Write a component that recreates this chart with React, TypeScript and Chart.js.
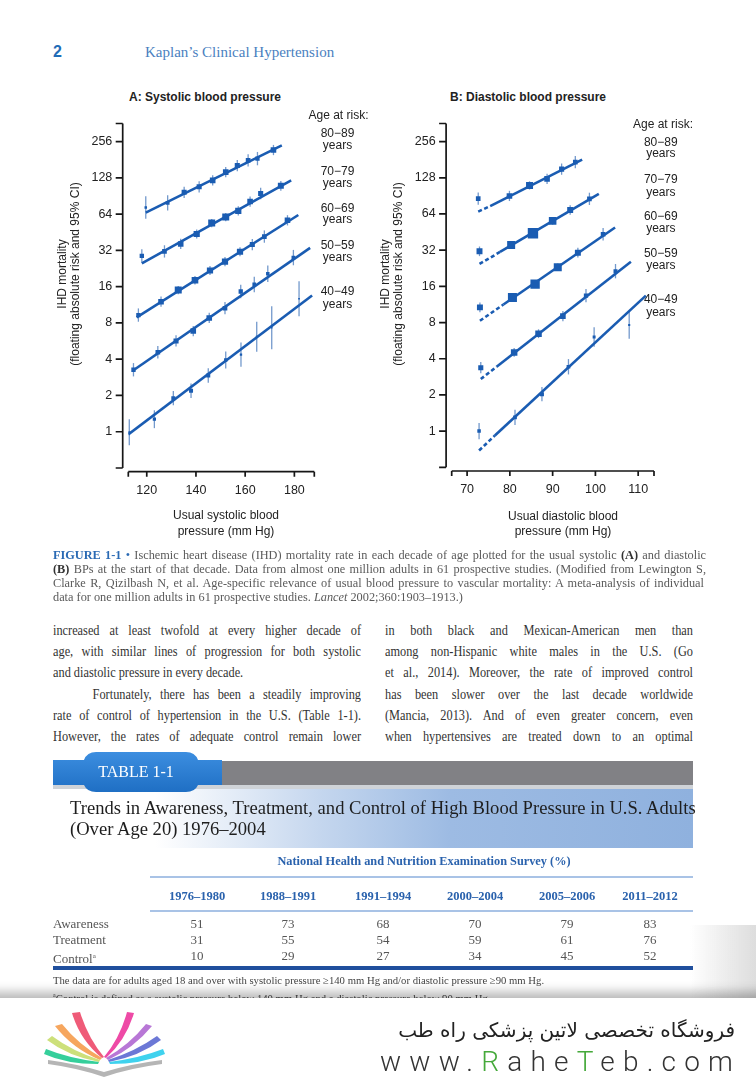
import React, { useEffect, useRef } from 'react';
import { Chart, registerables } from 'chart.js';

Chart.register(...registerables);

// [usual blood pressure (mm Hg), IHD mortality (floating absolute risk), SE of log risk]
type Obs = [number, number, number];
type Pt = [number, number];

// ---------- Panel A: usual systolic blood pressure ----------
const sysAge80_89: Obs[] = [
  [119.6, 72.7, 0.11], [128.5, 79.4, 0.074], [135.2, 97.2, 0.055], [141.3, 108, 0.055],
  [146.8, 122, 0.05], [152.1, 143, 0.05], [156.8, 162, 0.055], [161.2, 179, 0.06],
  [165.0, 185, 0.065], [171.5, 218, 0.05],
];
const sysAge70_79: Obs[] = [
  [118.0, 28.8, 0.064], [127.2, 31.4, 0.06], [133.8, 36.2, 0.05], [140.3, 43.8, 0.045],
  [146.4, 54, 0.04], [152.1, 60.5, 0.04], [157.2, 68, 0.045], [162.0, 81.5, 0.05],
  [166.3, 95, 0.055], [174.5, 110, 0.047],
];
const sysAge60_69: Obs[] = [
  [116.6, 9.3, 0.065], [125.8, 12.0, 0.05], [132.8, 15.0, 0.04], [139.6, 18.1, 0.042],
  [145.7, 21.8, 0.045], [151.8, 25.8, 0.045], [157.9, 31.2, 0.045], [162.9, 35.8, 0.055],
  [167.8, 41.7, 0.06], [177.2, 56.9, 0.05],
];
const sysAge50_59: Obs[] = [
  [114.6, 3.27, 0.065], [124.5, 4.57, 0.06], [131.9, 5.67, 0.055], [138.9, 6.85, 0.05],
  [145.4, 8.8, 0.05], [151.8, 10.6, 0.06], [158.2, 14.6, 0.065], [163.7, 16.7, 0.075],
  [169.2, 20.5, 0.08], [179.6, 27.9, 0.075],
];
const sysAge40_49: Obs[] = [
  [112.9, 0.99, 0.126], [123.1, 1.27, 0.087], [130.8, 1.9, 0.07], [138.0, 2.19, 0.07],
  [145.0, 2.93, 0.07], [152.1, 3.94, 0.084], [158.3, 4.37, 0.119], [164.7, 6.15, 0.147],
  [170.8, 7.3, 0.21], [181.9, 12.7, 0.17],
];
// fitted lines: [start, end]
const sysFit80_89: Pt[] = [[119.6, 66], [174.9, 238]];
const sysFit70_79: Pt[] = [[118.0, 25], [178.7, 122]];
const sysFit60_69: Pt[] = [[115.9, 8.9], [181.6, 63]];
const sysFit50_59: Pt[] = [[114.3, 3.21], [186.4, 33.6]];
const sysFit40_49: Pt[] = [[112.5, 0.95], [187.2, 13.5]];

// ---------- Panel B: usual diastolic blood pressure ----------
const diaAge80_89: Obs[] = [
  [72.6, 85.8, 0.06], [79.9, 90.4, 0.05], [84.6, 110.6, 0.04], [88.7, 125.4, 0.05],
  [92.1, 151, 0.055], [95.3, 173, 0.06],
];
const diaAge70_79: Obs[] = [
  [72.9, 31.3, 0.047], [80.3, 35.3, 0.035], [85.4, 44.2, 0.027], [90.0, 56.1, 0.037],
  [94.1, 69, 0.047], [98.6, 85.5, 0.06],
];
const diaAge60_69: Obs[] = [
  [73.0, 10.7, 0.047], [80.6, 12.9, 0.031], [85.9, 16.7, 0.03], [91.2, 23.1, 0.035],
  [95.9, 30.5, 0.047], [101.8, 43.4, 0.06],
];
const diaAge50_59: Obs[] = [
  [73.2, 3.37, 0.055], [81.0, 4.51, 0.043], [86.7, 6.46, 0.043], [92.4, 9.04, 0.05],
  [97.8, 13.4, 0.065], [104.7, 21.4, 0.07],
];
const diaAge40_49: Obs[] = [
  [72.8, 1.0, 0.08], [81.2, 1.30, 0.075], [87.5, 2.03, 0.07], [93.7, 3.43, 0.075],
  [99.7, 6.07, 0.095], [107.9, 7.64, 0.135],
];
// fitted lines: [start of dashed extrapolation, end of dashes, end]
const diaFit80_89: Pt[] = [[72.6, 67], [75.4, 74.5], [96.9, 181]];
const diaFit70_79: Pt[] = [[72.9, 24.6], [77.7, 30.9], [100.8, 94.2]];
const diaFit60_69: Pt[] = [[73.0, 8.28], [78.5, 11.3], [104.6, 49.4]];
const diaFit50_59: Pt[] = [[73.2, 2.71], [76.9, 3.43], [108.3, 25.6]];
const diaFit40_49: Pt[] = [[72.8, 0.69], [76.5, 0.92], [111.8, 13.4]];

// ---------- axes ----------
const ageGroups = ['80−89', '70−79', '60−69', '50−59', '40−49'];
const yTickValues = [1, 2, 4, 8, 16, 32, 64, 128, 256];
const yAxisRange: Pt = [0.5, 362];
const sysXTicks = [120, 140, 160, 180];
const sysXRange: Pt = [112.5, 188.1];
const diaXTicks = [70, 80, 90, 100, 110];
const diaXRange: Pt = [66.4, 113.7];

// ---------- table ----------
const tableYears = ['1976–1980', '1988–1991', '1991–1994', '2000–2004', '2005–2006', '2011–2012'];
const awareness = [51, 73, 68, 70, 79, 83];
const treatment = [31, 55, 54, 59, 61, 76];
const control = [10, 29, 27, 34, 45, 52];

const SANS = '"Liberation Sans", Arial, Helvetica, sans-serif';
const SERIF = '"Liberation Serif", "Times New Roman", serif';
const BLUE = '#1a5cb2';
const CI_BLUE = '#7399cc';
const Z95 = 1.96;

const markerSide = (se: number) => Math.min(11, Math.max(1.5, 0.28 / se));

const errorBarPlugin = {
  id: 'errorBars',
  beforeDatasetsDraw(chart: any) {
    const { ctx, scales } = chart;
    const x = scales.x, y = scales.y;
    ctx.save();
    ctx.strokeStyle = CI_BLUE;
    ctx.lineWidth = 1.3;
    chart.data.datasets.forEach((ds: any) => {
      if (!ds.obs) return;
      ds.obs.forEach(([bp, r, se]: Obs) => {
        const px = x.getPixelForValue(bp);
        const lo = y.getPixelForValue(r * Math.exp(-Z95 * se));
        const hi = y.getPixelForValue(r * Math.exp(Z95 * se));
        ctx.beginPath();
        ctx.moveTo(px, lo);
        ctx.lineTo(px, hi);
        ctx.stroke();
      });
    });
    ctx.restore();
  },
};

const detachedAxesPlugin = {
  id: 'detachedAxes',
  afterDraw(chart: any) {
    const { ctx, chartArea: ca, scales } = chart;
    const x = scales.x, y = scales.y;
    ctx.save();
    ctx.strokeStyle = '#161616';
    ctx.lineWidth = 1.7;
    ctx.beginPath();
    const ax = ca.left - 5.6;
    ctx.moveTo(ax, ca.top);
    ctx.lineTo(ax, ca.bottom);
    y.ticks.forEach((t: any) => {
      const py = y.getPixelForValue(t.value);
      ctx.moveTo(ax - 7, py);
      ctx.lineTo(ax, py);
    });
    const ay = ca.bottom + 3.7;
    ctx.moveTo(ca.left, ay);
    ctx.lineTo(ca.right, ay);
    x.ticks.forEach((t: any) => {
      const px = x.getPixelForValue(t.value);
      ctx.moveTo(px, ay);
      ctx.lineTo(px, ay + 5);
    });
    ctx.stroke();
    ctx.restore();
  },
};

function buildConfig(
  series: Obs[][], fits: Pt[][], xRange: Pt, xTicks: number[], dashedLead: boolean,
  yAxisWidth: number, xAxisHeight: number, padTop: number, padRight: number,
): any {
  const datasets: any[] = [];
  series.forEach((obs, i) => {
    datasets.push({
      type: 'scatter',
      label: ageGroups[i] + ' years',
      obs,
      data: obs.map(([bp, r]) => ({ x: bp, y: r })),
      pointStyle: 'rect',
      pointRadius: obs.map((o) => markerSide(o[2]) / Math.SQRT2),
      pointBackgroundColor: BLUE,
      pointBorderWidth: 0,
      showLine: false,
      order: 0,
    });
  });
  fits.forEach((f, i) => {
    datasets.push({
      type: 'line',
      label: ageGroups[i] + ' fit',
      data: f.map(([bp, r]) => ({ x: bp, y: r })),
      borderColor: BLUE,
      borderWidth: 2.6,
      pointRadius: 0,
      tension: 0,
      fill: false,
      segment: dashedLead
        ? { borderDash: (c: any) => (c.p0DataIndex === 0 ? [4, 2.6] : undefined) }
        : undefined,
      order: 1,
    });
  });
  const tickFont = { family: SANS, size: 12.5 };
  return {
    type: 'scatter',
    data: { datasets },
    options: {
      animation: false,
      responsive: false,
      maintainAspectRatio: false,
      devicePixelRatio: 1,
      layout: { padding: { top: padTop, right: padRight, left: 0, bottom: 0 } },
      plugins: { legend: { display: false }, tooltip: { enabled: false }, title: { display: false } },
      scales: {
        x: {
          type: 'linear',
          min: xRange[0],
          max: xRange[1],
          afterBuildTicks: (s: any) => {
            s.ticks = [xRange[0], ...xTicks, xRange[1]].map((v) => ({ value: v }));
          },
          afterFit: (s: any) => { s.height = xAxisHeight; },
          ticks: {
            callback: (v: any) => (xTicks.includes(v) ? String(v) : ''),
            font: tickFont,
            color: '#222',
            padding: 15,
            autoSkip: false,
            maxRotation: 0,
          },
          grid: { display: false, drawTicks: false },
          border: { display: false },
        },
        y: {
          type: 'logarithmic',
          min: yAxisRange[0],
          max: yAxisRange[1],
          afterBuildTicks: (s: any) => {
            s.ticks = [yAxisRange[0], ...yTickValues, yAxisRange[1]].map((v) => ({ value: v }));
          },
          afterFit: (s: any) => { s.width = yAxisWidth; },
          ticks: {
            callback: (v: any) => (yTickValues.includes(v) ? String(v) : ''),
            font: tickFont,
            color: '#222',
            padding: 16,
            autoSkip: false,
          },
          grid: { display: false, drawTicks: false },
          border: { display: false },
        },
      },
    },
    plugins: [errorBarPlugin, detachedAxesPlugin],
  };
}

function Txt(props: any) {
  const { x, y, children, size = 12, family = SANS, color = '#222', weight = 400, align = 'left', w = 400, style = {} } = props;
  const h = size * 2;
  let left = x;
  if (align === 'center') left = x - w / 2;
  if (align === 'right') left = x - w;
  return (
    <div
      style={{
        position: 'absolute', left, top: y - h / 2, height: h, lineHeight: h + 'px', width: w,
        textAlign: align, fontSize: size, fontFamily: family, color, fontWeight: weight,
        whiteSpace: 'nowrap', ...style,
      }}
    >
      {children}
    </div>
  );
}

function JLine(props: any) {
  const { x, y, w, size, family = SERIF, color = '#333', scale = 1, justify = true, children, lh = 18, indent = 0 } = props;
  return (
    <div
      style={{
        position: 'absolute', left: x, top: y - lh / 2, height: lh, lineHeight: lh + 'px',
        width: w / scale, transform: `scaleX(${scale})`, transformOrigin: 'left center',
        textAlign: justify ? 'justify' : 'left', textAlignLast: justify ? 'justify' : 'left',
        fontSize: size, fontFamily: family, color, textIndent: indent,
      }}
    >
      {children}
    </div>
  );
}

function VTxt(props: any) {
  const { x, y, children, size = 12 } = props;
  return (
    <div
      style={{
        position: 'absolute', left: x - 150, top: y - size, width: 300, height: size * 2,
        lineHeight: size * 2 + 'px', textAlign: 'center', fontFamily: SANS, fontSize: size,
        color: '#222', transform: 'rotate(-90deg)', whiteSpace: 'nowrap',
      }}
    >
      {children}
    </div>
  );
}

function AgeLabels(props: any) {
  const { cx, headY, headX, ageY, yearY } = props;
  return (
    <>
      <Txt x={headX} y={headY} align="center" w={120} size={12}>Age at risk:</Txt>
      {ageGroups.map((g, i) => (
        <React.Fragment key={g}>
          <Txt x={cx} y={ageY[i]} align="center" w={80} size={12}>{g}</Txt>
          <Txt x={cx} y={yearY[i]} align="center" w={80} size={12}>years</Txt>
        </React.Fragment>
      ))}
    </>
  );
}

function Logo() {
  const petals = [
    { c: '#ef5b78', d: 'M102,1058 Q80,1040 72,1013 L80,1012 Q88,1038 104,1057 Z' },
    { c: '#f6a65e', d: 'M100,1060 Q72,1048 55,1026 L62,1024 Q78,1044 102,1058 Z' },
    { c: '#cde07a', d: 'M99,1062 Q68,1056 47,1040 L52,1036 Q72,1051 100,1060 Z' },
    { c: '#35cf9b', d: 'M98,1064 Q66,1064 44,1054 L46,1049 Q68,1058 99,1062 Z' },
    { c: '#ee4aa6', d: 'M106,1058 Q126,1040 134,1013 L127,1012 Q120,1038 104,1057 Z' },
    { c: '#b877d6', d: 'M108,1060 Q134,1048 152,1026 L146,1024 Q130,1044 106,1058 Z' },
    { c: '#6c78d6', d: 'M109,1062 Q140,1056 161,1040 L157,1036 Q136,1051 108,1060 Z' },
    { c: '#3fd2ee', d: 'M110,1064 Q142,1064 165,1054 L163,1049 Q140,1058 109,1062 Z' },
  ];
  return (
    <svg width={756} height={1080} style={{ position: 'absolute', left: 0, top: 0 }}>
      {petals.map((p, i) => <path key={i} d={p.d} fill={p.c} />)}
      <path d="M48,1060 Q78,1064 104,1072 Q130,1064 162,1060 L162,1064 Q130,1068 104,1077 Q78,1068 48,1064 Z" fill="#b5b5b5" />
    </svg>
  );
}

export default function App() {
  const refA = useRef<HTMLCanvasElement>(null);
  const refB = useRef<HTMLCanvasElement>(null);

  useEffect(() => {
    const a = new Chart(
      refA.current as any,
      buildConfig(
        [sysAge80_89, sysAge70_79, sysAge60_69, sysAge50_59, sysAge40_49],
        [sysFit80_89, sysFit70_79, sysFit60_69, sysFit50_59, sysFit40_49],
        sysXRange, sysXTicks, false, 68.3, 52, 15, 15.7,
      ),
    );
    const b = new Chart(
      refB.current as any,
      buildConfig(
        [diaAge80_89, diaAge70_79, diaAge60_69, diaAge50_59, diaAge40_49],
        [diaFit80_89, diaFit70_79, diaFit60_69, diaFit50_59, diaFit40_49],
        diaXRange, diaXTicks, true, 71.7, 52.7, 14.3, 16,
      ),
    );
    return () => { a.destroy(); b.destroy(); };
  }, []);

  const capY = [554.5, 568.6, 582.7, 596.6];
  const bodyY = [631, 652.2, 673.4, 694.6, 715.8, 737];
  const colX = [197, 288, 383, 475, 567, 650];
  const rowY = [924, 940, 956];

  return (
    <div style={{ position: 'absolute', left: 0, top: 0, width: 756, height: 1080, background: '#fff', overflow: 'hidden' }}>
      {/* header */}
      <Txt x={53} y={52} size={16} weight={700} color="#1f6cb7" family={SANS}>2</Txt>
      <Txt x={145} y={52} size={15} color="#4a7fc0" family={SERIF}>Kaplan’s Clinical Hypertension</Txt>

      {/* panel titles */}
      <Txt x={129} y={96.5} size={12} weight={700}>A: Systolic blood pressure</Txt>
      <Txt x={450} y={97} size={12} weight={700}>B: Diastolic blood pressure</Txt>

      <canvas ref={refA} width={270} height={420} style={{ position: 'absolute', left: 60, top: 100, width: 270, height: 420 }} />
      <canvas ref={refB} width={290} height={420} style={{ position: 'absolute', left: 380, top: 100, width: 290, height: 420 }} />

      {/* axis titles */}
      <VTxt x={62} y={274}>IHD mortality</VTxt>
      <VTxt x={75} y={274}>(floating absolute risk and 95% CI)</VTxt>
      <VTxt x={384.5} y={274}>IHD mortality</VTxt>
      <VTxt x={398} y={274}>(floating absolute risk and 95% CI)</VTxt>
      <Txt x={226} y={515} align="center" w={200} size={12}>Usual systolic blood</Txt>
      <Txt x={226} y={531} align="center" w={200} size={12}>pressure (mm Hg)</Txt>
      <Txt x={563} y={515.5} align="center" w={200} size={12}>Usual diastolic blood</Txt>
      <Txt x={563} y={531} align="center" w={200} size={12}>pressure (mm Hg)</Txt>

      <AgeLabels cx={337.5} headX={338.5} headY={115}
        ageY={[132.7, 170.7, 207.7, 245, 290.7]} yearY={[145, 183.3, 219.3, 256.7, 304]} />
      <AgeLabels cx={660.8} headX={663} headY={124.3}
        ageY={[141.7, 179.3, 216, 253.3, 299.3]} yearY={[153.3, 191.7, 227.7, 265, 312.3]} />

      {/* caption */}
      <JLine x={53} y={capY[0]} w={653} size={12.3} color="#5a5a5a" lh={14}>
        <span style={{ color: '#2a6ab4', fontWeight: 700 }}>FIGURE 1-1</span>{' '}
        <span style={{ color: '#2a6ab4' }}>•</span> Ischemic heart disease (IHD) mortality rate in each decade of age plotted for the usual systolic <b style={{ color: '#333' }}>(A)</b> and diastolic
      </JLine>
      <JLine x={53} y={capY[1]} w={653} size={12.3} color="#5a5a5a" lh={14}>
        <b style={{ color: '#333' }}>(B)</b> BPs at the start of that decade. Data from almost one million adults in 61 prospective studies. (Modified from Lewington S,
      </JLine>
      <JLine x={53} y={capY[2]} w={651} size={12.3} color="#5a5a5a" lh={14}>
        Clarke R, Qizilbash N, et al. Age-specific relevance of usual blood pressure to vascular mortality: A meta-analysis of individual
      </JLine>
      <JLine x={53} y={capY[3]} w={420} size={12.3} color="#5a5a5a" lh={14} justify={false}>
        data for one million adults in 61 prospective studies. <i>Lancet</i> 2002;360:1903–1913.)
      </JLine>

      {/* body text */}
      <JLine x={53} y={bodyY[0]} w={308} size={14} scale={0.88}>increased at least twofold at every higher decade of</JLine>
      <JLine x={53} y={bodyY[1]} w={308} size={14} scale={0.88}>age, with similar lines of progression for both systolic</JLine>
      <JLine x={53} y={bodyY[2]} w={308} size={14} scale={0.88} justify={false}>and diastolic pressure in every decade.</JLine>
      <JLine x={53} y={bodyY[3]} w={308} size={14} scale={0.88} indent={45}>Fortunately, there has been a steadily improving</JLine>
      <JLine x={53} y={bodyY[4]} w={308} size={14} scale={0.88}>rate of control of hypertension in the U.S. (Table 1-1).</JLine>
      <JLine x={53} y={bodyY[5]} w={308} size={14} scale={0.88}>However, the rates of adequate control remain lower</JLine>
      <JLine x={385} y={bodyY[0]} w={308} size={14} scale={0.88}>in both black and Mexican-American men than</JLine>
      <JLine x={385} y={bodyY[1]} w={308} size={14} scale={0.88}>among non-Hispanic white males in the U.S. (Go</JLine>
      <JLine x={385} y={bodyY[2]} w={308} size={14} scale={0.88}>et al., 2014). Moreover, the rate of improved control</JLine>
      <JLine x={385} y={bodyY[3]} w={308} size={14} scale={0.88}>has been slower over the last decade worldwide</JLine>
      <JLine x={385} y={bodyY[4]} w={308} size={14} scale={0.88}>(Mancia, 2013). And of even greater concern, even</JLine>
      <JLine x={385} y={bodyY[5]} w={308} size={14} scale={0.88}>when hypertensives are treated down to an optimal</JLine>

      {/* table header graphics */}
      <div style={{ position: 'absolute', left: 222, top: 761, width: 471, height: 24, background: '#818185' }} />
      <div style={{ position: 'absolute', left: 53, top: 785, width: 640, height: 4, background: '#cfd3d8' }} />
      <div style={{
        position: 'absolute', left: 53, top: 789, width: 640, height: 59,
        background: 'linear-gradient(to right, #ffffff 0%, #ffffff 16%, #c4d6ee 42%, #9dbbe3 62%, #8fb1de 100%)',
      }} />
      <svg width={756} height={1080} style={{ position: 'absolute', left: 0, top: 0 }}>
        <defs>
          <linearGradient id="tabg" x1="0" y1="0" x2="0" y2="1">
            <stop offset="0" stopColor="#3c8ee0" />
            <stop offset="1" stopColor="#1f6fc4" />
          </linearGradient>
        </defs>
        <path d="M53,760 L84,760 Q87,752 96,752 L186,752 Q195,752 198,760 L222,760 L222,785 L198,785 Q195,792 186,792 L96,792 Q87,792 84,785 L53,785 Z" fill="url(#tabg)" />
      </svg>
      <Txt x={136} y={772} align="center" w={140} size={16} color="#fff" family={SERIF}>TABLE 1-1</Txt>
      <Txt x={70} y={808} size={18.6} color="#1e1e1e" family={SERIF}>Trends in Awareness, Treatment, and Control of High Blood Pressure in U.S. Adults</Txt>
      <Txt x={70} y={829} size={18.6} color="#1e1e1e" family={SERIF}>(Over Age 20) 1976–2004</Txt>

      <Txt x={424} y={861} align="center" w={400} size={12.3} weight={700} color="#2a62ad" family={SERIF}>National Health and Nutrition Examination Survey (%)</Txt>
      <div style={{ position: 'absolute', left: 150, top: 876, width: 543, height: 2, background: '#a9c3e6' }} />
      {tableYears.map((yr, i) => (
        <Txt key={yr} x={colX[i]} y={896} align="center" w={90} size={12.5} weight={700} color="#2a62ad" family={SERIF}>{yr}</Txt>
      ))}
      <div style={{ position: 'absolute', left: 150, top: 910, width: 543, height: 2, background: '#a9c3e6' }} />
      {[['Awareness', awareness], ['Treatment', treatment], ['Control', control]].map(([name, vals]: any, r) => (
        <React.Fragment key={name}>
          <Txt x={53} y={rowY[r]} size={13} color="#555" family={SERIF}>
            {name}{name === 'Control' ? <sup style={{ fontSize: 7 }}>a</sup> : null}
          </Txt>
          {vals.map((v: number, i: number) => (
            <Txt key={i} x={colX[i]} y={rowY[r]} align="center" w={60} size={13} color="#555" family={SERIF}>{v}</Txt>
          ))}
        </React.Fragment>
      ))}
      <div style={{ position: 'absolute', left: 53, top: 966, width: 640, height: 3.5, background: '#1f4f9d' }} />
      <Txt x={53} y={981} size={10.7} color="#444" family={SERIF}>The data are for adults aged 18 and over with systolic pressure ≥140 mm Hg and/or diastolic pressure ≥90 mm Hg.</Txt>
      <Txt x={53} y={996} size={10.7} color="#444" family={SERIF}><sup style={{ fontSize: 6 }}>a</sup>Control is defined as a systolic pressure below 140 mm Hg and a diastolic pressure below 90 mm Hg.</Txt>

      {/* footer banner */}
      <div style={{
        position: 'absolute', left: 690, top: 925, width: 66, height: 75,
        background: 'linear-gradient(to right, rgba(170,170,170,0), rgba(170,170,170,0.4))',
      }} />
      <div style={{
        position: 'absolute', left: -10, top: 998, width: 776, height: 100, background: '#fff',
        boxShadow: '0 -3px 10px 3px rgba(0,0,0,0.28)',
      }} />
      <Logo />
      <Txt x={735} y={1030} align="right" w={400} size={20} color="#222" family={'"DejaVu Sans", sans-serif'} style={{ direction: 'rtl' }}>
        فروشگاه تخصصی لاتین پزشکی  راه طب
      </Txt>
      <Txt x={380} y={1062} w={400} size={28} color="#333" family={'Roboto, "Liberation Sans", sans-serif'} weight={300} style={{ letterSpacing: 8.2 }}>
        www.<span style={{ color: '#45a93a' }}>R</span>ahe<span style={{ color: '#45a93a' }}>T</span>eb.com
      </Txt>
    </div>
  );
}
